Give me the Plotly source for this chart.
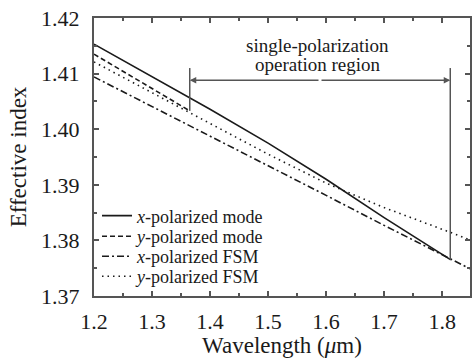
import plotly.graph_objects as go

# ---- data ----
x_mode_wl = [1.2, 1.3, 1.4, 1.5, 1.6, 1.7, 1.8, 1.815]
x_mode_n = [1.4153, 1.4095, 1.4036, 1.3975, 1.3910, 1.3841, 1.3774, 1.3765]

y_mode_wl = [1.2, 1.25, 1.3, 1.365]
y_mode_n = [1.4135, 1.4104, 1.4073, 1.4033]

x_fsm_wl = [1.2, 1.3, 1.4, 1.5, 1.6, 1.7, 1.8, 1.85]
x_fsm_n = [1.4094, 1.4041, 1.3987, 1.3934, 1.3881, 1.3827, 1.3774, 1.3748]

y_fsm_wl = [1.2, 1.3, 1.4, 1.5, 1.6, 1.7, 1.8, 1.85]
y_fsm_n = [1.4121, 1.4066, 1.4010, 1.3955, 1.3903, 1.3859, 1.3820, 1.3800]

series_names = [
    "<i>x</i>-polarized mode",
    "<i>y</i>-polarized mode",
    "<i>x</i>-polarized FSM",
    "<i>y</i>-polarized FSM",
]

region_start = 1.365
region_end = 1.814
marker_top = 1.4110
arrow_level = 1.4088
region_label = ["single-polarization", "operation region"]

FONT = "Liberation Serif"
INK = "#1a1a1a"
AXIS = "#555555"

fig = go.Figure()
series = [
    (x_mode_wl, x_mode_n, "solid", "legend"),
    (y_mode_wl, y_mode_n, "5px,3px", "legend2"),
    (x_fsm_wl, x_fsm_n, "7px,3px,2px,3px", "legend3"),
    (y_fsm_wl, y_fsm_n, "1.5px,4px", "legend4"),
]
for (wl, n, dash, lg), name in zip(series, series_names):
    fig.add_trace(go.Scatter(
        x=wl, y=n, mode="lines", name=name, legend=lg,
        line=dict(color=INK, width=1.6, dash=dash),
    ))

# region markers
fig.add_shape(type="line", xref="x", yref="y", x0=region_start, x1=region_start,
              y0=y_mode_n[-1], y1=marker_top, line=dict(color=AXIS, width=1.5))
fig.add_shape(type="line", xref="x", yref="y", x0=region_end, x1=region_end,
              y0=x_mode_n[-1], y1=marker_top, line=dict(color=AXIS, width=1.5))
mid = (region_start + region_end) / 2
for head in (region_start, region_end):
    fig.add_annotation(x=head, y=arrow_level, ax=mid, ay=arrow_level,
                       xref="x", yref="y", axref="x", ayref="y", text="",
                       showarrow=True, arrowhead=2, arrowsize=1.0, arrowwidth=1.3,
                       arrowcolor=AXIS, standoff=0, startstandoff=0)
for i, txt in enumerate(region_label):
    fig.add_annotation(x=1.586, y=1.4150 - i * 0.0034, xref="x", yref="y",
                       text=txt, showarrow=False, xanchor="center", yanchor="middle",
                       font=dict(family=FONT, size=19, color=INK))

leg_common = dict(x=0.008, xanchor="left", yanchor="middle", bgcolor="rgba(0,0,0,0)",
                  borderwidth=0, font=dict(family=FONT, size=18, color=INK),
                  itemwidth=30)
leg_y = [0.288, 0.214, 0.142, 0.070]

fig.update_layout(
    width=472, height=358,
    margin=dict(l=94, r=0, t=18, b=62),
    plot_bgcolor="white", paper_bgcolor="white",
    showlegend=True,
    legend=dict(y=leg_y[0], **leg_common),
    legend2=dict(y=leg_y[1], **leg_common),
    legend3=dict(y=leg_y[2], **leg_common),
    legend4=dict(y=leg_y[3], **leg_common),
    xaxis=dict(
        range=[1.2, 1.848], dtick=0.1, tick0=1.2, tickformat=".1f",
        ticks="inside", ticklen=5, tickwidth=1.5, tickcolor=AXIS,
        showline=True, linecolor=AXIS, linewidth=2, mirror="ticks",
        showgrid=False, zeroline=False,
        minor=dict(dtick=0.05, ticks="inside", ticklen=3, tickcolor=AXIS, showgrid=False),
        tickfont=dict(family=FONT, size=22, color=INK), ticklabelstandoff=5,
        title=dict(text="Wavelength (<i>μ</i>m)", font=dict(family=FONT, size=23, color=INK), standoff=6),
    ),
    yaxis=dict(
        range=[1.37, 1.42], dtick=0.01, tick0=1.37, tickformat=".2f",
        ticks="inside", ticklen=5, tickwidth=1.5, tickcolor=AXIS,
        showline=True, linecolor=AXIS, linewidth=2, mirror="ticks",
        showgrid=False, zeroline=False,
        minor=dict(dtick=0.005, ticks="inside", ticklen=3, tickcolor=AXIS, showgrid=False),
        tickfont=dict(family=FONT, size=22, color=INK), ticklabelstandoff=8,
        title=dict(text="Effective index", font=dict(family=FONT, size=23, color=INK), standoff=8),
    ),
)

fig.write_html("out.html")
